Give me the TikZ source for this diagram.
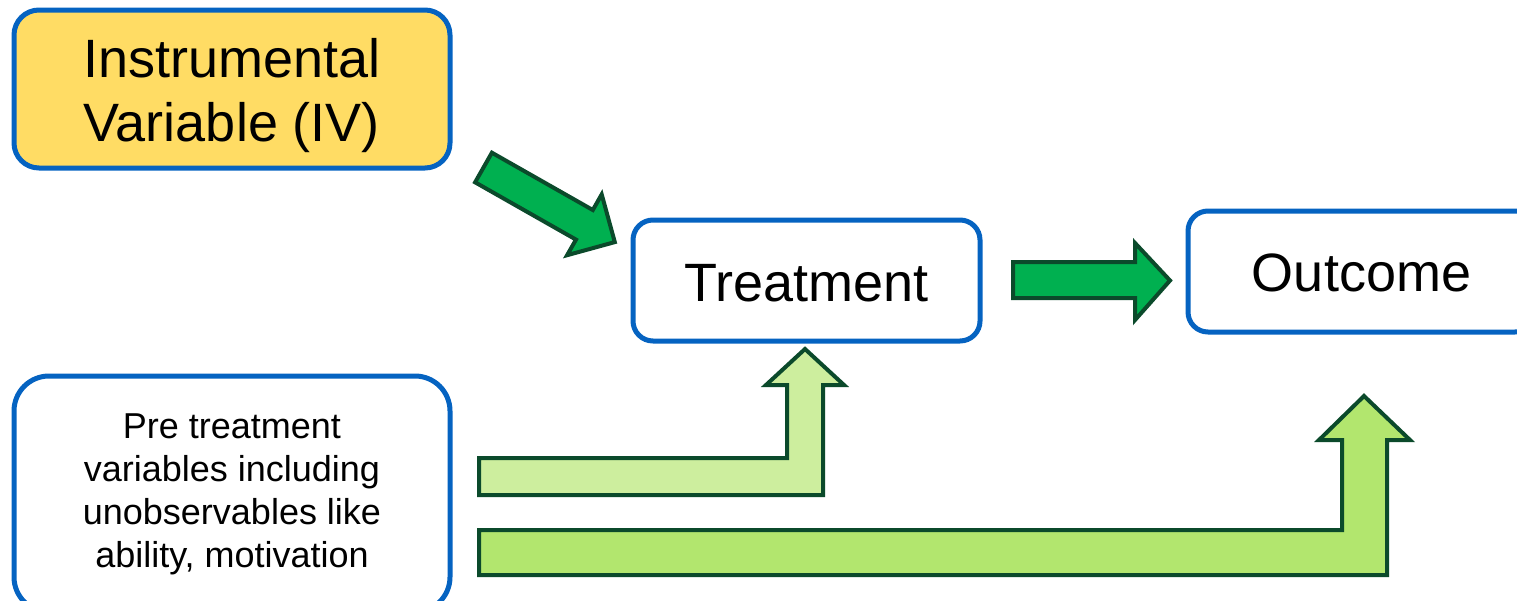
\documentclass[tikz,border=0pt]{standalone}
\usepackage{fontspec}
\setmainfont{Liberation Sans}
\definecolor{boxblue}{HTML}{0563C1}
\definecolor{ivyellow}{HTML}{FFDC64}
\definecolor{arrowdark}{HTML}{00B050}
\definecolor{arrowedge}{HTML}{0B4A2B}
\definecolor{arrowpale}{HTML}{CDEE9E}
\definecolor{arrowlime}{HTML}{B2E66E}
\tikzset{
  varbox/.style={draw=boxblue, line width=5pt, fill=white, inner sep=0pt,
    align=center, text=black},
  bigtext/.style={font=\fontsize{54}{64}\selectfont, align=center},
  smalltext/.style={font=\fontsize{36}{43}\selectfont, align=center},
  blockarrow/.style={draw=arrowedge, line width=4pt, line join=miter},
}
\begin{document}
\begin{tikzpicture}[x=1pt, y=-1pt]
  \useasboundingbox (0,0) rectangle (1517,600);
  \clip (0,0) rectangle (1517,600);

  % variable boxes, each with its caption placed as a centred label
  \node[varbox, fill=ivyellow, rounded corners=25pt,
        minimum width=436pt, minimum height=158pt,
        label={[bigtext, yshift=-7pt]center:Instrumental\\Variable (IV)}]
        (iv) at (232,89) {};
  \node[varbox, rounded corners=20pt,
        minimum width=347pt, minimum height=121pt,
        label={[bigtext, yshift=-3pt]center:Treatment}]
        (treat) at (806.5,280.5) {};
  \node[varbox, rounded corners=20pt,
        minimum width=347pt, minimum height=121pt,
        label={[bigtext, yshift=-1pt]center:Outcome}]
        (outcome) at (1361.5,271.5) {};
  \node[varbox, rounded corners=35pt,
        minimum width=436pt, minimum height=236pt,
        label={[smalltext]center:Pre treatment\\variables including\\unobservables like\\ability, motivation}]
        (pre) at (232,494) {};

  % IV -> Treatment
  \draw[blockarrow, fill=arrowdark]
    (491.9,152.7) -- (592.8,210.0) -- (601.7,194.4) -- (614.8,242.1)
    -- (567.1,255.2) -- (576.0,239.6) -- (475.1,182.3) -- cycle;

  % Treatment -> Outcome
  \draw[blockarrow, fill=arrowdark]
    (1013,262) -- (1135,262) -- (1135,243) -- (1170,280.5)
    -- (1135,320) -- (1135,298) -- (1013,298) -- cycle;

  % pre-treatment variables -> Treatment
  \draw[blockarrow, fill=arrowpale]
    (479,458) -- (787,458) -- (787,385) -- (766,385) -- (805,349)
    -- (844,385) -- (823,385) -- (823,495) -- (479,495) -- cycle;

  % pre-treatment variables -> Outcome
  \draw[blockarrow, fill=arrowlime]
    (479,530) -- (1342,530) -- (1342,440) -- (1319,440) -- (1364,396)
    -- (1410,440) -- (1387,440) -- (1387,575) -- (479,575) -- cycle;
\end{tikzpicture}
\end{document}
